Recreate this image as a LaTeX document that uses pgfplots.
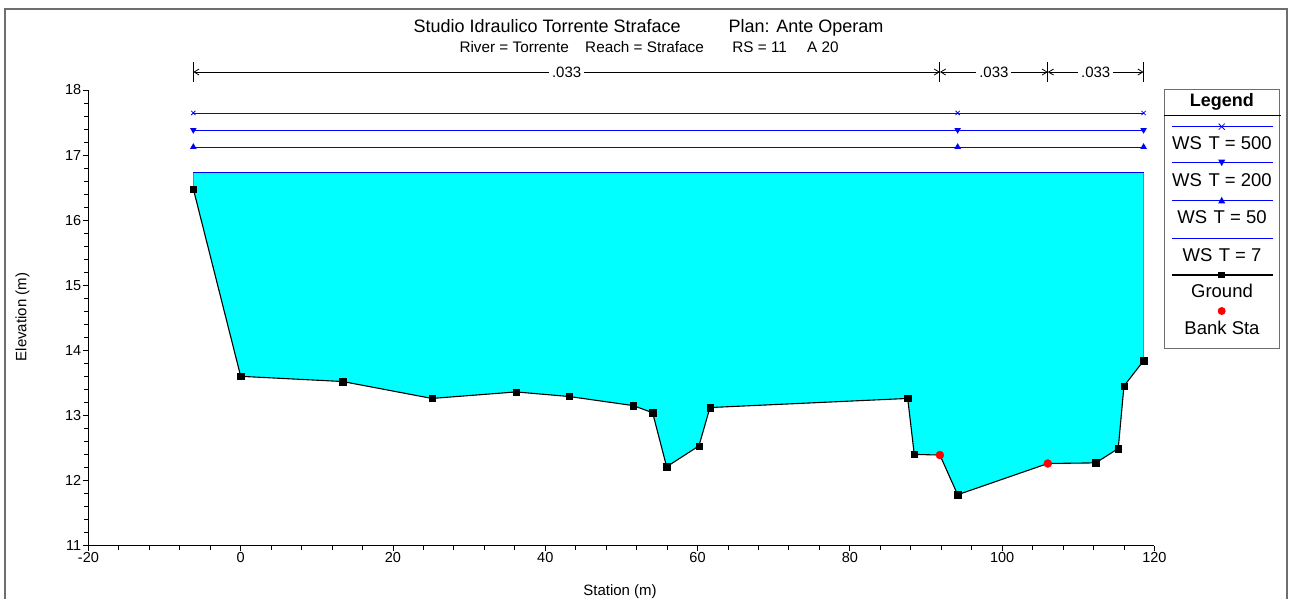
\documentclass[border=0pt]{standalone}
\usepackage{pgfplots}
\pgfplotsset{compat=1.18}
\usepackage{fontspec}
\setmainfont{Liberation Sans}
\usetikzlibrary{arrows.meta}
\definecolor{wsblue}{RGB}{0,0,255}
\definecolor{watercyan}{RGB}{0,255,255}
\definecolor{framegray}{RGB}{110,110,110}

\begin{document}
\begin{tikzpicture}[x=1pt,y=1pt]
\useasboundingbox (0,0) rectangle (1291,598);
\draw[framegray, line width=1.3pt] (5,-3) -- (5,589) -- (1287,589) -- (1287,-3);

\begin{axis}[
  at={(88.4pt,52.5pt)}, anchor=south west,
  scale only axis, width=1066pt, height=455.5pt,
  xmin=-20, xmax=120, ymin=11, ymax=18,
  axis lines*=left,
  xtick={-20,0,...,120}, ytick={11,...,18},
  minor x tick num=4, minor y tick num=4,
  tick align=outside, major tick length=5.5pt, minor tick length=4pt,
  tick style={black, line width=0.9pt},
  axis line style={black, line width=1.2pt},
  /pgf/number format/assume math mode=true,
  tick label style={font=\fontsize{14.5}{15}\selectfont, inner sep=1.5pt},
  clip=false,
]
% water (WS T = 7) area
\addplot[draw=none, fill=watercyan] coordinates {
 (-6.22,16.73) (-6.22,16.48) (0.00,13.60) (13.39,13.52) (25.12,13.26) (36.15,13.36)
 (43.11,13.29) (51.56,13.15) (54.10,13.04) (55.94,12.21) (60.18,12.53) (61.63,13.12)
 (87.60,13.26) (88.46,12.40) (91.83,12.39) (94.16,11.78) (106.00,12.26) (112.30,12.27)
 (115.25,12.49) (116.00,13.45) (118.58,13.84) (118.58,16.73)} -- cycle;
\addplot[gray, line width=0.8pt] coordinates {(118.58,13.84) (118.58,16.73)};
\addplot[gray, line width=0.8pt] coordinates {(-6.22,16.48) (-6.22,16.73)};
% WS T = 7
\addplot[wsblue, line width=1.3pt] coordinates {(-6.22,16.73) (118.58,16.73)};
% WS T = 50
\addplot[wsblue, line width=0.8pt, mark=triangle*, mark size=3pt, mark options={solid, fill=wsblue}]
 coordinates {(-6.22,17.125) (94.16,17.125) (118.58,17.125)};
% WS T = 200
\addplot[wsblue, line width=0.8pt, mark=triangle*, mark size=3pt, mark options={solid, fill=wsblue, rotate=180}]
 coordinates {(-6.22,17.386) (94.16,17.386) (118.58,17.386)};
% WS T = 500
\addplot[wsblue, line width=0.8pt, mark=x, mark size=3pt, mark options={solid, line width=0.8pt}]
 coordinates {(-6.22,17.647) (94.16,17.647) (118.58,17.647)};
% Ground line
\addplot[black, line width=1.1pt] coordinates {
 (-6.22,16.48) (0.00,13.60) (13.39,13.52) (25.12,13.26) (36.15,13.36)
 (43.11,13.29) (51.56,13.15) (54.10,13.04) (55.94,12.21) (60.18,12.53) (61.63,13.12)
 (87.60,13.26) (88.46,12.40) (91.83,12.39) (94.16,11.78) (106.00,12.26) (112.30,12.27)
 (115.25,12.49) (116.00,13.45) (118.58,13.84)};
% Ground points
\addplot[only marks, mark=square*, mark size=3.2pt, black] coordinates {
 (-6.22,16.48) (0.00,13.60) (13.39,13.52) (25.12,13.26) (36.15,13.36)
 (43.11,13.29) (51.56,13.15) (54.10,13.04) (55.94,12.21) (60.18,12.53) (61.63,13.12)
 (87.60,13.26) (88.46,12.40) (94.16,11.78) (112.30,12.27)
 (115.25,12.49) (116.00,13.45) (118.58,13.84)};
% Bank stations
\addplot[only marks, mark=*, mark size=4pt, red, mark options={fill=red, draw=red}]
 coordinates {(91.83,12.39) (106.00,12.26)};

% Manning's n
\draw[black, line width=0.9pt] (axis cs:-6.22,18.123) -- (axis cs:-6.22,18.43);
\draw[black, line width=0.9pt] (axis cs:91.83,18.123) -- (axis cs:91.83,18.43);
\draw[black, line width=0.9pt] (axis cs:106.00,18.123) -- (axis cs:106.00,18.43);
\draw[black, line width=0.9pt] (axis cs:118.58,18.123) -- (axis cs:118.58,18.43);
\draw[{Straight Barb[length=5pt,width=6pt]}-{Straight Barb[length=5pt,width=6pt]}, line width=0.8pt]
  (axis cs:-6.22,18.276) -- (axis cs:91.83,18.276)
  node[midway, fill=white, inner sep=3pt, font=\fontsize{15}{15}\selectfont] {.033};
\draw[{Straight Barb[length=5pt,width=6pt]}-{Straight Barb[length=5pt,width=6pt]}, line width=0.8pt]
  (axis cs:91.83,18.276) -- (axis cs:106.00,18.276)
  node[midway, fill=white, inner sep=3pt, font=\fontsize{15}{15}\selectfont] {.033};
\draw[{Straight Barb[length=5pt,width=6pt]}-{Straight Barb[length=5pt,width=6pt]}, line width=0.8pt]
  (axis cs:106.00,18.276) -- (axis cs:118.58,18.276)
  node[midway, fill=white, inner sep=3pt, font=\fontsize{15}{15}\selectfont] {.033};
\end{axis}

% Titles
\node[anchor=base west, inner sep=0pt, font=\fontsize{18}{18}\selectfont] at (413.3,565) {Studio Idraulico Torrente Straface};
\node[anchor=base west, inner sep=0pt, font=\fontsize{18}{18}\selectfont] at (728.4,565) {Plan: Ante Operam};
\node[anchor=base west, inner sep=0pt, font=\fontsize{15.3}{15}\selectfont] at (459.3,545.3) {River = Torrente};
\node[anchor=base west, inner sep=0pt, font=\fontsize{15.3}{15}\selectfont] at (585,545.3) {Reach = Straface};
\node[anchor=base west, inner sep=0pt, font=\fontsize{15.3}{15}\selectfont] at (732.2,545.3) {RS = 11};
\node[anchor=base west, inner sep=0pt, font=\fontsize{15.3}{15}\selectfont] at (806.9,545.3) {A 20};

% Axis labels
\node[rotate=90, inner sep=0pt, font=\fontsize{15}{15}\selectfont] at (22.5,281) {Elevation (m)};
\node[anchor=base, inner sep=0pt, font=\fontsize{15}{15}\selectfont] at (620,2.5) {Station (m)};

% Legend
\draw[framegray, line width=1pt] (1164.3,249.7) rectangle (1279.3,508.7);
\draw[black, line width=0.9pt] (1164.3,483) -- (1280.5,483);
\node[anchor=base, inner sep=0pt, font=\bfseries\fontsize{18}{18}\selectfont] at (1221.8,491) {Legend};
\begin{scope}[line width=0.8pt]
\draw[wsblue] (1171.7,471.3) -- (1272.7,471.3);
\draw[wsblue] (1218.7,468.3) -- (1224.7,474.3) (1218.7,474.3) -- (1224.7,468.3);
\draw[wsblue] (1171.7,435.3) -- (1272.7,435.3);
\fill[wsblue] (1218.2,438.3) -- (1225.2,438.3) -- (1221.7,431.8) -- cycle;
\draw[wsblue] (1171.7,397.7) -- (1272.7,397.7);
\fill[wsblue] (1218.2,394.7) -- (1225.2,394.7) -- (1221.7,401.2) -- cycle;
\draw[wsblue] (1171.7,359.7) -- (1272.7,359.7);
\draw[black, line width=1.1pt] (1171.7,323) -- (1272.7,323);
\fill[black] (1218.4,319.7) rectangle (1225,326.3);
\fill[red] (1221.7,287) circle (4);
\end{scope}
\begin{scope}[every node/.style={anchor=base, inner sep=0pt, font=\fontsize{18.5}{18}\selectfont}]
\node at (1222,448.1) {WS\hspace{0.35em}T = 500};
\node at (1222,411.4) {WS\hspace{0.35em}T = 200};
\node at (1222,374.7) {WS\hspace{0.35em}T = 50};
\node at (1222,336.4) {WS\hspace{0.35em}T = 7};
\node at (1222,300.4) {Ground};
\node at (1222,263.1) {Bank Sta};
\end{scope}
\end{tikzpicture}
\end{document}
